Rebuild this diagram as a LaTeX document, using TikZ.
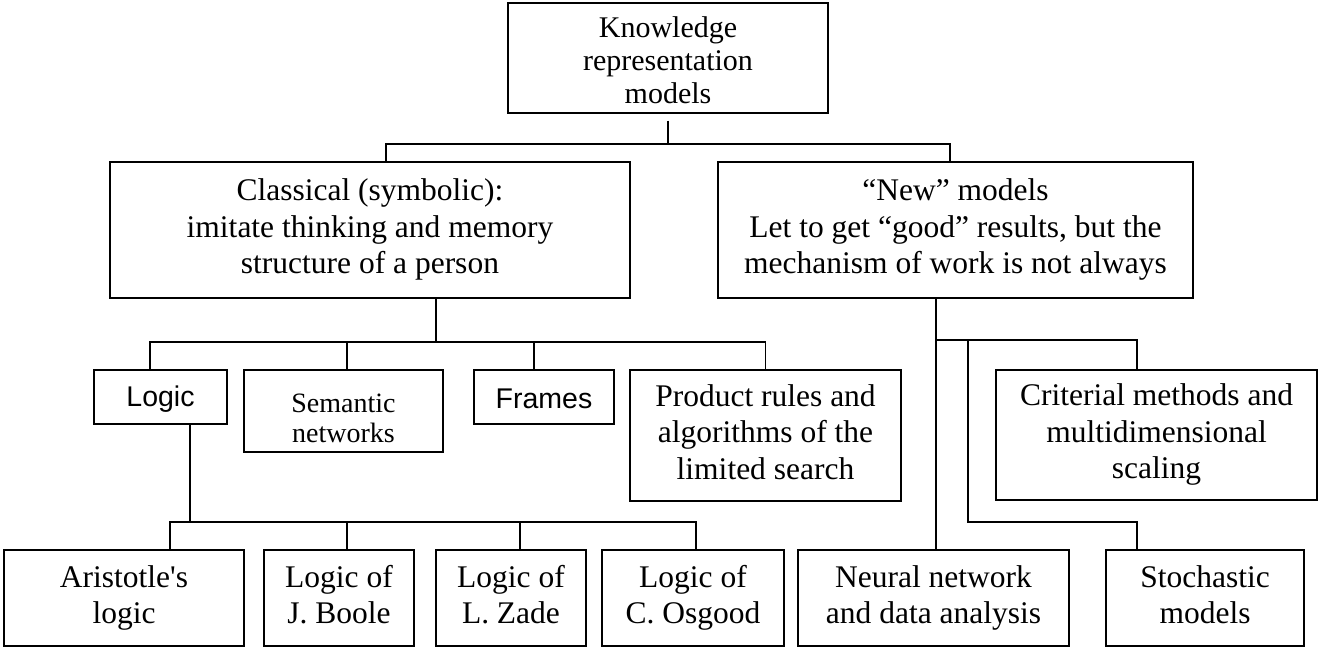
\documentclass[tikz,border=0pt]{standalone}
\usepackage{fontspec}
\setmainfont{Liberation Serif}
\newfontfamily\arial{Liberation Sans}
% straight apostrophe, set as a glyph so the TeX mapping leaves it alone
\newcommand\sqt{\XeTeXglyph\XeTeXcharglyph"0027\relax}
% invisible strut of given height and depth (pt) to fix the text's vertical place
\newcommand\bstrut[2]{\rule[-#2pt]{0pt}{\dimexpr #1pt+#2pt\relax}}
\begin{document}
\begin{tikzpicture}[x=1pt,y=-1pt,
  plain/.style={draw,line width=1.3pt,inner sep=0pt,align=center,anchor=center},
  box/.style={plain,font=\fontsize{31.5}{36.5}\selectfont,
    execute at begin node=\bstrut{26}{7}, execute at end node=\bstrut{26}{7}},
  sansbox/.style={plain,font=\arial\fontsize{28.5}{32}\selectfont,
    execute at begin node=\bstrut{24}{2}, execute at end node=\bstrut{24}{2}},
  topbox/.style={plain,font=\fontsize{30}{33}\selectfont},
  smallbox/.style={plain,font=\fontsize{28}{30}\selectfont},
  link/.style={line width=1.3pt}]
\useasboundingbox (0,0) rectangle (1318,648);

% top level
\node[topbox,minimum width=320pt,minimum height=110pt] (top) at (668,58)
  {\bstrut{26}{0}Knowledge\\representation\\models};

% second level
\node[box,minimum width=520pt,minimum height=136pt] (classical) at (370,230)
  {Classical (symbolic):\\imitate thinking and memory\\structure of a person};
\node[box,minimum width=475pt,minimum height=136pt] (new) at (955.5,230)
  {“New” models\\Let to get “good” results, but the\\mechanism of work is not always};

% third level
\node[sansbox,minimum width=133pt,minimum height=54pt] (logic) at (160.5,397) {Logic};
\node[smallbox,minimum width=199pt,minimum height=82pt] (semantic) at (343.5,411)
  {\bstrut{33}{0}Semantic\\networks};
\node[sansbox,minimum width=140pt,minimum height=54pt] (frames) at (544,397) {Frames};
\node[box,minimum width=271pt,minimum height=131pt] (product) at (765.5,435.5)
  {Product rules and\\algorithms of the\\limited search};
\node[box,minimum width=321pt,minimum height=130pt] (criterial) at (1156.5,435)
  {Criterial methods and\\multidimensional\\scaling};

% bottom level
\node[box,minimum width=240pt,minimum height=96pt] (aristotle) at (124,598) {Aristotle\sqt s\\logic};
\node[box,minimum width=150pt,minimum height=96pt] (boole) at (339,598) {Logic of\\J. Boole};
\node[box,minimum width=150pt,minimum height=96pt] (zade) at (511,598) {Logic of\\L. Zade};
\node[box,minimum width=182pt,minimum height=96pt] (osgood) at (693,598) {Logic of\\C. Osgood};
\node[box,minimum width=271pt,minimum height=96pt] (neural) at (933.5,598) {Neural network\\and data analysis};
\node[box,minimum width=198pt,minimum height=96pt] (stochastic) at (1205,598) {Stochastic\\models};

% junction points
\coordinate (j0) at (668,144);
\coordinate (j1) at (436,342);
\coordinate (j2) at (190,522);
\coordinate (n1) at (936,340);
\coordinate (n2) at (968,340);
\coordinate (n3) at (968,522);

% top split
\draw[link] ([yshift=-7pt]top.south) -- (j0);
\draw[link] ([xshift=16pt]classical.north) |- (j0) -| ([xshift=-5.5pt]new.north);

% classical branch
\draw[link] ([xshift=66pt]classical.south) -- (j1);
\draw[link] ([xshift=-10.5pt]logic.north) |- (j1) -| (product.north);
\draw[link] ([xshift=3.5pt]semantic.north) -- ([xshift=3.5pt]semantic.north |- j1);
\draw[link] ([xshift=-10pt]frames.north) -- ([xshift=-10pt]frames.north |- j1);

% logic branch
\draw[link] ([xshift=29.5pt]logic.south) -- (j2);
\draw[link] ([xshift=46pt]aristotle.north) |- (j2) -| ([xshift=3pt]osgood.north);
\draw[link] ([xshift=8pt]boole.north) -- ([xshift=8pt]boole.north |- j2);
\draw[link] ([xshift=9pt]zade.north) -- ([xshift=9pt]zade.north |- j2);

% new models branch
\draw[link] ([xshift=-19.5pt]new.south) -- ([xshift=2.5pt]neural.north);
\draw[link] (n1) -| ([xshift=-19.5pt]criterial.north);
\draw[link] (n2) -- (n3) -| ([xshift=-68pt]stochastic.north);
\end{tikzpicture}
\end{document}
